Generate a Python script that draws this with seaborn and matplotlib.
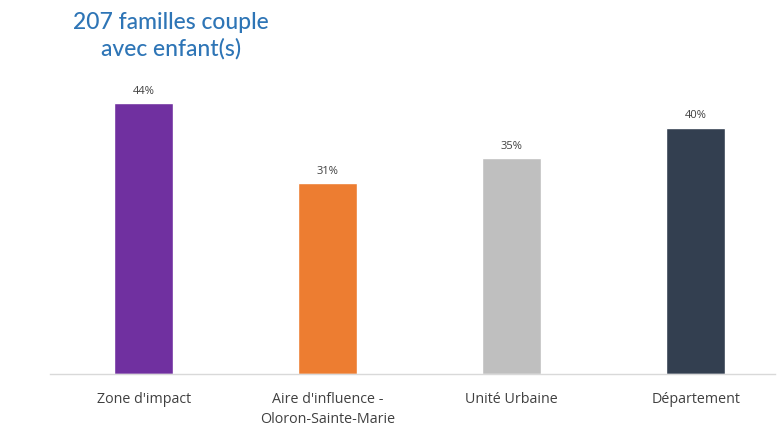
import matplotlib
matplotlib.use("Agg")
import matplotlib.pyplot as plt
import seaborn as sns
import pandas as pd

categories = ["Zone d'impact", "Aire d'influence -\nOloron-Sainte-Marie", "Unité Urbaine", "Département"]
values = [44, 31, 35, 40]
labels = ["44%", "31%", "35%", "40%"]
colors = ["#7030A0", "#ED7D31", "#BFBFBF", "#333F50"]
title = "207 familles couple\navec enfant(s)"

sns.set_theme(style="white")
plt.rcParams['font.family'] = ['Open Sans', 'DejaVu Sans']

df = pd.DataFrame({"cat": categories, "val": values})
fig = plt.figure(figsize=(7.84, 4.27), dpi=100)
ax = fig.add_axes([50/784, 1-375/427, 725/784, 295.7/427])
sns.barplot(data=df, x="cat", y="val", hue="cat", palette=colors, legend=False,
            width=0.32, ax=ax, saturation=1)
for i, (v, l) in enumerate(zip(values, labels)):
    ax.text(i, v + 1.2, l, ha="center", va="bottom", fontsize=8, color="#404040")
ax.set_xlim(-0.51, 3.43)
ax.set_ylim(0, 48)
ax.set_xlabel("")
ax.set_ylabel("")
ax.set_yticks([])
for s in ["top", "right", "left"]:
    ax.spines[s].set_visible(False)
ax.spines["bottom"].set_color("#D9D9D9")
ax.spines["bottom"].set_linewidth(1)
ax.tick_params(axis="x", length=0, pad=12, labelsize=10.3, labelcolor="#404040")
for t in ax.get_xticklabels():
    t.set_linespacing(1.45)
fig.text(171/784, 1-36/427, title, ha="center", va="center", fontsize=16.5,
         color="#2E75B6", linespacing=1.3, family=['Lato', 'DejaVu Sans'],
         fontweight="medium")
fig.savefig("out.png", dpi=100)
